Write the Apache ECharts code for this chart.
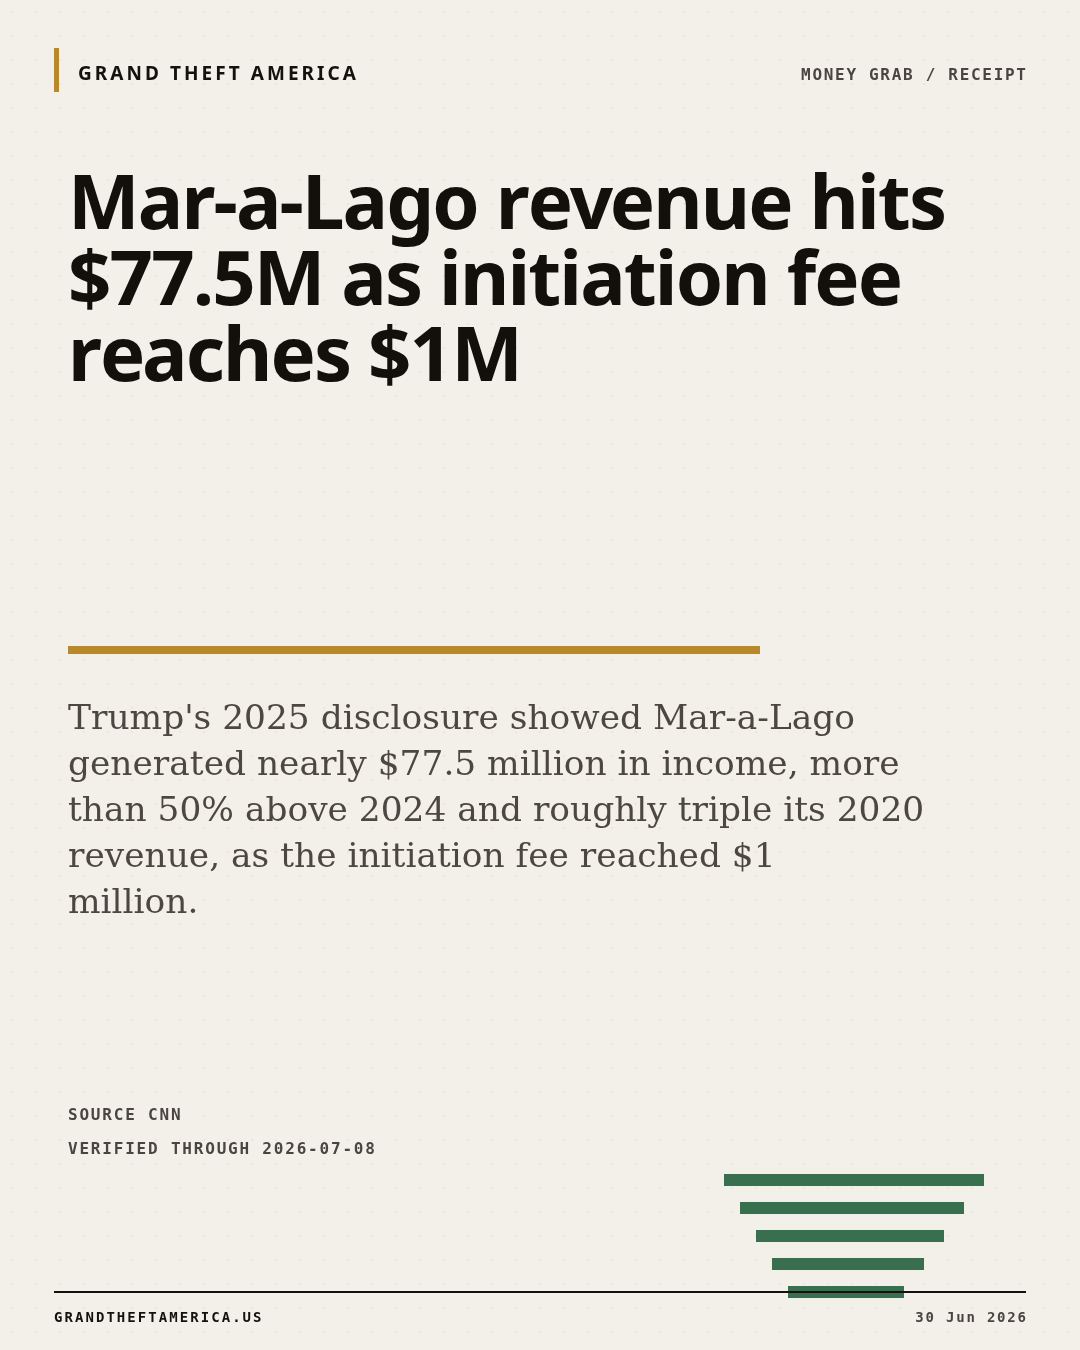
<!DOCTYPE html>
<html>
<head>
<meta charset="utf-8">
<script src="https://cdn.jsdelivr.net/npm/echarts@6/dist/echarts.min.js"></script>
<style>
html,body{margin:0;padding:0;background:#f3f0e9;}
#chart{width:1080px;height:1350px;}
</style>
</head>
<body>
<div id="chart"></div>
<script>
// ---- data ----
const brand = 'GRAND THEFT AMERICA';
const kicker = 'MONEY GRAB / RECEIPT';
const titleLines = ['Mar-a-Lago revenue hits', '$77.5M as initiation fee', 'reaches $1M'];
const bodyLines = [
  "Trump's 2025 disclosure showed Mar-a-Lago",
  'generated nearly $77.5 million in income, more',
  'than 50% above 2024 and roughly triple its 2020',
  'revenue, as the initiation fee reached $1',
  'million.'
];
const sourceLines = ['SOURCE CNN', 'VERIFIED THROUGH 2026-07-08'];
const footerLeft = 'GRANDTHEFTAMERICA.US';
const footerRight = '30 Jun 2026';
// decorative receipt bars
const receiptRows = ['r1', 'r2', 'r3', 'r4', 'r5'];
const receiptOffsets = [0, 16, 32, 48, 64];
const receiptLengths = [260, 224, 188, 152, 116];

// ---- helpers ----
const mcv = document.createElement('canvas').getContext('2d');
function spaced(str, x, y, size, family, weight, spacing, fill, align) {
  const font = weight + ' ' + size + 'px ' + family;
  mcv.font = font;
  const total = mcv.measureText(str).width + spacing * (str.length - 1);
  const start = align === 'right' ? x - total : x;
  const out = [];
  for (let i = 0; i < str.length; i++) {
    const ch = str[i];
    if (ch === ' ') continue;
    out.push({
      type: 'text', z: 20,
      x: start + mcv.measureText(str.slice(0, i)).width + i * spacing,
      y: y,
      style: { text: ch, fontSize: size, fontFamily: family, fontWeight: weight, fill: fill, verticalAlign: 'middle', align: 'left' }
    });
  }
  return out;
}

// dot pattern background
const pc = document.createElement('canvas');
pc.width = 24; pc.height = 24;
const px = pc.getContext('2d');
px.fillStyle = '#f3f0e9';
px.fillRect(0, 0, 24, 24);
px.fillStyle = 'rgba(120,100,70,0.07)';
px.fillRect(11, 11, 2, 2);

const chart = echarts.init(document.getElementById('chart'), null, { renderer: 'canvas' });

const mono = '"DejaVu Sans Mono"';
const sans = '"Noto Sans"';
const serif = '"DejaVu Serif"';

let g = [];
// header accent
g.push({ type: 'rect', z: 20, shape: { x: 54, y: 48, width: 5, height: 44 }, style: { fill: '#b8892a' } });
g = g.concat(spaced(brand, 78, 75, 19, sans, 'bold', 3.05, '#15120e', 'left'));
g = g.concat(spaced(kicker, 1026, 76, 16, mono, 'bold', 1.7, '#4a4540', 'right'));
// title
titleLines.forEach((t, i) => {
  g = g.concat(spaced(t, 68, 207 + i * 76, 76, sans, 'bold', -1.9, '#13100c', 'left'));
});
// gold rule
g.push({ type: 'rect', z: 20, shape: { x: 68, y: 646, width: 692, height: 8 }, style: { fill: '#b8892a' } });
// body
bodyLines.forEach((t, i) => {
  g.push({ type: 'text', z: 20, x: 68, y: 720 + i * 46, style: { text: t, fontSize: 34.4, fontFamily: serif, fill: '#4d4742', verticalAlign: 'middle' } });
});
// source
sourceLines.forEach((t, i) => {
  g = g.concat(spaced(t, 68, 1116 + i * 34, 16, mono, 'bold', 1.8, '#4a4540', 'left'));
});
// footer
g.push({ type: 'rect', z: 30, shape: { x: 54, y: 1291, width: 972, height: 2 }, style: { fill: '#15120e' } });
g = g.concat(spaced(footerLeft, 54, 1318.5, 14, mono, 'bold', 2.05, '#15120e', 'left'));
g = g.concat(spaced(footerRight, 1026, 1318.5, 14, mono, 'bold', 1.8, '#4a4540', 'right'));

chart.setOption({
  backgroundColor: { image: pc, repeat: 'repeat' },
  animation: false,
  grid: { left: 724, top: 1166, width: 260, height: 140, containLabel: false },
  xAxis: { type: 'value', min: 0, max: 260, show: false },
  yAxis: { type: 'category', data: receiptRows, inverse: true, show: false },
  series: [
    { type: 'bar', stack: 'r', data: receiptOffsets, barWidth: 12, itemStyle: { color: 'transparent' }, silent: true, z: 2 },
    { type: 'bar', stack: 'r', data: receiptLengths, barWidth: 12, itemStyle: { color: '#386f4f' }, silent: true, z: 2 }
  ],
  graphic: { elements: g }
});
</script>
</body>
</html>
